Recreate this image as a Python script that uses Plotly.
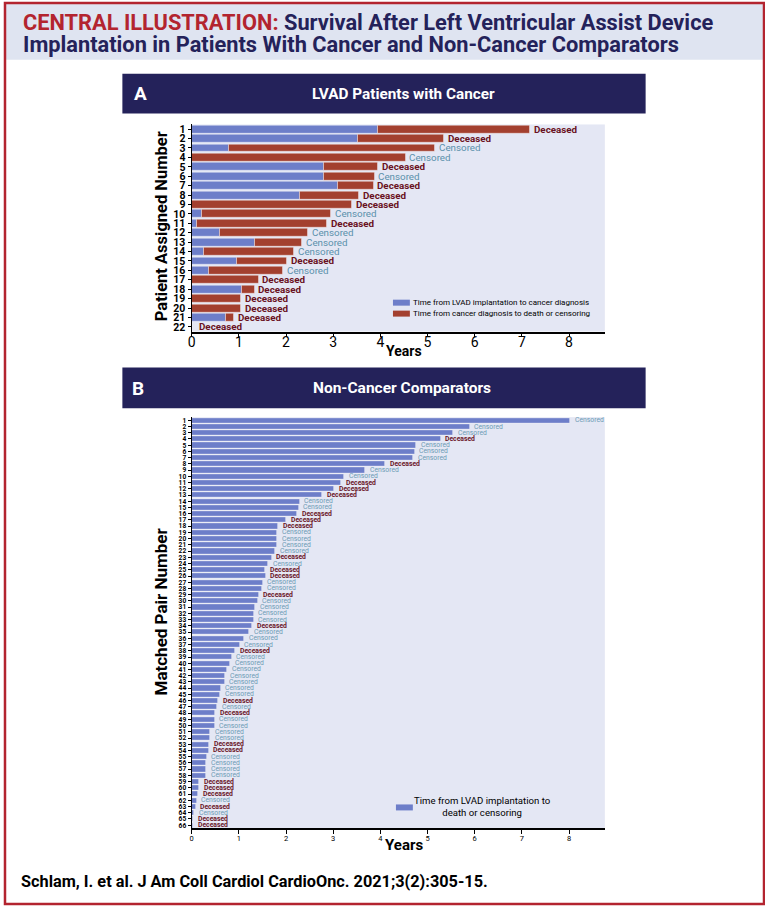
import plotly.graph_objects as go

# ---------------- Data ----------------
# Panel A: LVAD patients with cancer (years)
patients_a = [str(i) for i in range(1, 23)]
lvad_to_cancer = [3.94, 3.51, 0.79, 0.00, 2.79, 2.80, 3.09, 2.30, 0.00, 0.22, 0.11,
                  0.60, 1.34, 0.25, 0.96, 0.35, 0.00, 1.06, 0.00, 0.00, 0.72, 0.00]
cancer_to_end = [3.23, 1.83, 4.37, 4.53, 1.15, 1.07, 0.76, 1.24, 3.39, 2.73, 2.76,
                 1.87, 0.99, 1.92, 1.06, 1.59, 1.41, 0.27, 1.04, 1.04, 0.17, 0.00]
status_a = ["Deceased", "Deceased", "Censored", "Censored", "Deceased", "Censored",
            "Deceased", "Deceased", "Deceased", "Censored", "Deceased", "Censored",
            "Censored", "Censored", "Deceased", "Censored", "Deceased", "Deceased",
            "Deceased", "Deceased", "Deceased", "Deceased"]

# Panel B: non-cancer comparators (years)
pairs_b = [str(i) for i in range(1, 67)]
lvad_to_end = [8.02, 5.89, 5.53, 5.27, 4.75, 4.72, 4.69, 4.10, 3.67, 3.22, 3.16,
               3.02, 2.76, 2.28, 2.26, 2.23, 2.00, 1.82, 1.81, 1.81, 1.81, 1.76,
               1.69, 1.62, 1.55, 1.56, 1.50, 1.48, 1.41, 1.39, 1.34, 1.31, 1.31,
               1.27, 1.21, 1.10, 1.01, 0.91, 0.84, 0.81, 0.74, 0.70, 0.69, 0.61,
               0.60, 0.55, 0.53, 0.49, 0.48, 0.48, 0.39, 0.38, 0.37, 0.35, 0.31,
               0.30, 0.30, 0.30, 0.15, 0.15, 0.13, 0.10, 0.08, 0.04, 0.03, 0.03]
status_b = ["Censored", "Censored", "Censored", "Deceased", "Censored", "Censored",
            "Censored", "Deceased", "Censored", "Censored", "Deceased", "Deceased",
            "Deceased", "Censored", "Censored", "Deceased", "Deceased", "Deceased",
            "Censored", "Censored", "Censored", "Censored", "Deceased", "Censored",
            "Deceased", "Deceased", "Censored", "Censored", "Deceased", "Censored",
            "Censored", "Censored", "Censored", "Deceased", "Censored", "Censored",
            "Censored", "Deceased", "Censored", "Censored", "Censored", "Censored",
            "Censored", "Censored", "Censored", "Deceased", "Censored", "Deceased",
            "Censored", "Censored", "Censored", "Censored", "Deceased", "Deceased",
            "Censored", "Censored", "Censored", "Censored", "Deceased", "Deceased",
            "Deceased", "Censored", "Deceased", "Censored", "Deceased", "Deceased"]

x_ticks = [0, 1, 2, 3, 4, 5, 6, 7, 8]

# ---------------- Styling ----------------
W, H = 765, 907
FONT = "Roboto, Liberation Sans, Arial, sans-serif"
BLUE = "#6d7ec9"
RED = "#a3402f"
NAVY = "#24225a"
CRIMSON = "#b3242f"
DEC_A, CEN_A = "#6a1222", "#5a90ab"
DEC_B, CEN_B = "#6a1628", "#6d9bb4"
PLOT_BG = "#e4e7f4"


def px(xp):
    return xp / W


def py(yp):
    return 1 - yp / H


fig = go.Figure()

ya_pos = list(range(1, len(patients_a) + 1))
yb_pos = list(range(1, len(pairs_b) + 1))

fig.add_trace(go.Bar(
    y=ya_pos, x=lvad_to_cancer, orientation="h", marker_color=BLUE,
    marker_line=dict(color="white", width=0.4), width=0.84,
    xaxis="x", yaxis="y", name="Time from LVAD implantation to cancer diagnosis",
    showlegend=False, hoverinfo="x+y"))
fig.add_trace(go.Bar(
    y=ya_pos, x=cancer_to_end, base=lvad_to_cancer, orientation="h", marker_color=RED,
    marker_line=dict(color="white", width=0.4), width=0.84,
    xaxis="x", yaxis="y", name="Time from cancer diagnosis to death or censoring",
    showlegend=False, hoverinfo="x+y"))
fig.add_trace(go.Bar(
    y=yb_pos, x=lvad_to_end, orientation="h", marker_color=BLUE,
    marker_line=dict(color="white", width=0.3), width=0.82,
    xaxis="x2", yaxis="y2", name="Time from LVAD implantation to death or censoring",
    showlegend=False, hoverinfo="x+y"))

annotations = []
# Status labels, panel A
for i, (b, r, s) in enumerate(zip(lvad_to_cancer, cancer_to_end, status_a)):
    dec = s == "Deceased"
    annotations.append(dict(
        x=b + r, y=ya_pos[i], xref="x", yref="y", xanchor="left", yanchor="middle",
        xshift=2 if (b + r) > 0 else 5, showarrow=False,
        text=("<b>%s</b>" % s) if dec else s,
        font=dict(family=FONT, size=9.8, color=DEC_A if dec else CEN_A)))
# Status labels, panel B
for i, (v, s) in enumerate(zip(lvad_to_end, status_b)):
    dec = s == "Deceased"
    annotations.append(dict(
        x=v, y=yb_pos[i], xref="x2", yref="y2", xanchor="left", yanchor="middle",
        xshift=3, showarrow=False,
        text=("<b>%s</b>" % s) if dec else s,
        font=dict(family=FONT, size=6.8, color=DEC_B if dec else CEN_B)))

# Titles / headers
annotations += [
    dict(x=px(17), y=py(21), xref="paper", yref="paper", xanchor="left", yanchor="middle",
         showarrow=False,
         text="<b><span style='color:%s'>CENTRAL ILLUSTRATION:</span> Survival After Left Ventricular Assist Device</b>" % CRIMSON,
         font=dict(family=FONT, size=21.8, color=NAVY)),
    dict(x=px(17), y=py(43), xref="paper", yref="paper", xanchor="left", yanchor="middle",
         showarrow=False,
         text="<b>Implantation in Patients With Cancer and Non-Cancer Comparators</b>",
         font=dict(family=FONT, size=21.8, color=NAVY)),
    dict(x=px(137), y=py(92), xref="paper", yref="paper", xanchor="center", yanchor="middle",
         showarrow=False, text="<b>A</b>", font=dict(family=FONT, size=19, color="white")),
    dict(x=px(402), y=py(92), xref="paper", yref="paper", xanchor="center", yanchor="middle",
         showarrow=False, text="<b>LVAD Patients with Cancer</b>",
         font=dict(family=FONT, size=15.3, color="white")),
    dict(x=px(135), y=py(388), xref="paper", yref="paper", xanchor="center", yanchor="middle",
         showarrow=False, text="<b>B</b>", font=dict(family=FONT, size=19, color="white")),
    dict(x=px(400), y=py(388), xref="paper", yref="paper", xanchor="center", yanchor="middle",
         showarrow=False, text="<b>Non-Cancer Comparators</b>",
         font=dict(family=FONT, size=15.5, color="white")),
    dict(x=px(402), y=py(351), xref="paper", yref="paper", xanchor="center", yanchor="middle",
         showarrow=False, text="<b>Years</b>", font=dict(family=FONT, size=14, color="black")),
    dict(x=px(402), y=py(847), xref="paper", yref="paper", xanchor="center", yanchor="middle",
         showarrow=False, text="<b>Years</b>", font=dict(family=FONT, size=15, color="black")),
    dict(x=px(158), y=py(225), xref="paper", yref="paper", xanchor="center", yanchor="middle",
         showarrow=False, textangle=-90, text="<b>Patient Assigned Number</b>",
         font=dict(family=FONT, size=16.5, color="black")),
    dict(x=px(158), y=py(612), xref="paper", yref="paper", xanchor="center", yanchor="middle",
         showarrow=False, textangle=-90, text="<b>Matched Pair Number</b>",
         font=dict(family=FONT, size=17, color="black")),
    # legends
    dict(x=px(409), y=py(302), xref="paper", yref="paper", xanchor="left", yanchor="middle",
         showarrow=False, text="Time from LVAD implantation to cancer diagnosis",
         font=dict(family=FONT, size=8.0, color="black")),
    dict(x=px(409), y=py(313), xref="paper", yref="paper", xanchor="left", yanchor="middle",
         showarrow=False, text="Time from cancer diagnosis to death or censoring",
         font=dict(family=FONT, size=8.0, color="black")),
    dict(x=px(481), y=py(808.5), xref="paper", yref="paper", xanchor="center", yanchor="middle",
         showarrow=False, text="Time from LVAD implantation to<br>death or censoring",
         font=dict(family=FONT, size=9.6, color="black")),
    # footer
    dict(x=px(15), y=py(883), xref="paper", yref="paper", xanchor="left", yanchor="middle",
         showarrow=False, text="<b>Schlam, I. et al. J Am Coll Cardiol CardioOnc. 2021;3(2):305-15.</b>",
         font=dict(family=FONT, size=16.3, color="black")),
]

shapes = [
    # header band
    dict(type="rect", xref="paper", yref="paper", x0=0, x1=1, y0=py(58), y1=1,
         fillcolor="#dfe4f1", line=dict(width=0), layer="below"),
    # panel headers
    dict(type="rect", xref="paper", yref="paper", x0=px(119), x1=px(645), y0=py(112), y1=py(72),
         fillcolor=NAVY, line=dict(width=0), layer="below"),
    dict(type="rect", xref="paper", yref="paper", x0=px(119), x1=px(645), y0=py(408), y1=py(367),
         fillcolor=NAVY, line=dict(width=0), layer="below"),
    # legend swatches
    dict(type="rect", xref="paper", yref="paper", x0=px(391), x1=px(408), y0=py(305), y1=py(299),
         fillcolor=BLUE, line=dict(width=0)),
    dict(type="rect", xref="paper", yref="paper", x0=px(391), x1=px(408), y0=py(316), y1=py(310),
         fillcolor=RED, line=dict(width=0)),
    dict(type="rect", xref="paper", yref="paper", x0=px(394), x1=px(411), y0=py(812), y1=py(806),
         fillcolor=BLUE, line=dict(width=0)),
    # outer border
    dict(type="rect", xref="paper", yref="paper", x0=px(1), x1=px(764), y0=py(906), y1=py(1),
         fillcolor="rgba(0,0,0,0)", line=dict(color=CRIMSON, width=2.5)),
]

x_common = dict(range=[0, 8.76], tickvals=x_ticks, ticks="outside", ticklen=4, tickwidth=1.2,
                tickcolor="black", showline=True, linecolor="black", linewidth=1.6,
                showgrid=False, zeroline=False, fixedrange=True)
y_common = dict(ticks="outside", ticklen=3, tickwidth=1, tickcolor="black", showline=True,
                linecolor="black", linewidth=1.4, showgrid=False, zeroline=False, fixedrange=True)

fig.update_layout(
    width=W, height=H, margin=dict(l=0, r=0, t=0, b=0),
    paper_bgcolor="white", plot_bgcolor=PLOT_BG,
    barmode="overlay", bargap=0, showlegend=False,
    xaxis=dict(domain=[px(188.7), px(604)], anchor="y", ticklabelstandoff=-7,
               tickfont=dict(family=FONT, size=14, color="black"), **x_common),
    yaxis=dict(domain=[py(331), py(123)], anchor="x", range=[22.5, 0.5],
               tickvals=ya_pos, ticktext=patients_a,
               tickfont=dict(family=FONT, size=10.5, color="black", weight="bold"), **y_common),
    xaxis2=dict(domain=[px(188.7), px(604)], anchor="y2", ticklabelstandoff=-2,
                tickfont=dict(family=FONT, size=7.5, color="black"), **x_common),
    yaxis2=dict(domain=[py(830), py(417)], anchor="x2", range=[66.5, 0.5],
                tickvals=yb_pos, ticktext=pairs_b,
                tickfont=dict(family=FONT, size=6.6, color="black", weight="bold"), **y_common),
    annotations=annotations, shapes=shapes,
)

fig.write_html(
    "out.html",
    config={"displayModeBar": False},
    post_script="document.body.style.margin='0';document.body.style.overflow='hidden';",
)
